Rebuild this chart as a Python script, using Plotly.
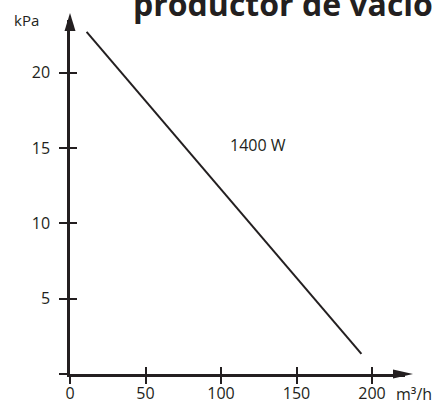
import plotly.graph_objects as go

# ---- data ----
flow = [11, 193]            # m³/h
pressure = [22.7, 1.33]     # kPa
x_ticks = [0, 50, 100, 150, 200]
x_tick_labels = ["0", "50", "100", "150", "200"]
y_ticks = [0, 5, 10, 15, 20]
y_tick_labels = ["", "5", "10", "15", "20"]
series_label = "1400 W"
title_text = "productor de vacío"
x_unit = "m³/h"
y_unit = "kPa"

# ---- geometry ----
W, H = 435, 403
L, R, T, B = 70, 405, 20, 374         # plot area in pixels
PX_PER_X = 1.51
PX_PER_Y = 15.07
x_max = (R - L) / PX_PER_X
y_max = (B - T) / PX_PER_Y
INK = "#231f20"
FONT = "Open Sans"

def px(xp):
    return (xp - L) / (R - L)

def py(yp):
    return (B - yp) / (B - T)

fig = go.Figure()
fig.add_trace(go.Scatter(x=flow, y=pressure, mode="lines",
                         line=dict(color=INK, width=2), hoverinfo="skip",
                         showlegend=False))
# invisible trace for the overlay axes (inner halves of tick marks)
fig.add_trace(go.Scatter(x=[x_ticks[0]], y=[y_ticks[0]], mode="markers",
                         marker=dict(opacity=0), xaxis="x2", yaxis="y2",
                         hoverinfo="skip", showlegend=False))

common = dict(showgrid=False, zeroline=False, fixedrange=True, automargin=False)
fig.update_layout(
    width=W, height=H, autosize=False,
    margin=dict(l=L, r=W - R, t=T, b=H - B, pad=0, autoexpand=False),
    paper_bgcolor="white", plot_bgcolor="white",
    font=dict(family=FONT, color=INK, size=16),
    xaxis=dict(range=[0, x_max], tickvals=x_ticks, ticktext=x_tick_labels,
               ticks="outside", ticklen=7, tickwidth=2, tickcolor=INK,
               showline=True, linewidth=2.5, linecolor=INK,
               tickfont=dict(size=16, family=FONT, color=INK),
               ticklabelstandoff=-4, **common),
    yaxis=dict(range=[0, y_max], tickvals=y_ticks, ticktext=y_tick_labels,
               ticks="outside", ticklen=8, tickwidth=2, tickcolor=INK,
               showline=True, linewidth=2.5, linecolor=INK,
               tickfont=dict(size=16, family=FONT, color=INK),
               ticklabelstandoff=6, **common),
    xaxis2=dict(range=[0, x_max], overlaying="x", anchor="y2", side="bottom",
                tickvals=x_ticks, ticks="inside", ticklen=7, tickwidth=2,
                tickcolor=INK, showticklabels=False, showline=False, **common),
    yaxis2=dict(range=[0, y_max], overlaying="y", anchor="x2", side="left",
                tickvals=y_ticks, ticks="inside", ticklen=7, tickwidth=2,
                tickcolor=INK, showticklabels=False, showline=False, **common),
)

# arrow heads
fig.add_shape(type="path", xref="paper", yref="paper",
              path=f"M {px(64.5)} {py(31)} L {px(70)} {py(13)} L {px(75.5)} {py(31)} Z",
              fillcolor=INK, line=dict(width=0))
fig.add_shape(type="path", xref="paper", yref="paper",
              path=f"M {px(393)} {py(369.5)} L {px(413)} {py(374)} L {px(393)} {py(378.5)} Z",
              fillcolor=INK, line=dict(width=0))

# texts
fig.add_annotation(text=y_unit, xref="paper", yref="paper", x=px(26), y=py(20),
                   xanchor="center", yanchor="middle", showarrow=False,
                   font=dict(size=15, family=FONT, color=INK))
fig.add_annotation(text=x_unit, xref="paper", yref="paper", x=px(414), y=py(394),
                   xanchor="center", yanchor="middle", showarrow=False,
                   font=dict(size=16, family=FONT, color=INK))
fig.add_annotation(text=series_label, xref="paper", yref="paper", x=px(258), y=py(145),
                   xanchor="center", yanchor="middle", showarrow=False,
                   font=dict(size=16, family=FONT, color=INK))
fig.add_annotation(text=f"<b>{title_text}</b>", xref="paper", yref="paper",
                   x=px(131), y=py(3), xanchor="left", yanchor="middle",
                   showarrow=False, font=dict(size=32, family=FONT, color=INK))

fig.write_html("out.html", config={"displayModeBar": False},
               post_script="document.body.style.margin='0';")
